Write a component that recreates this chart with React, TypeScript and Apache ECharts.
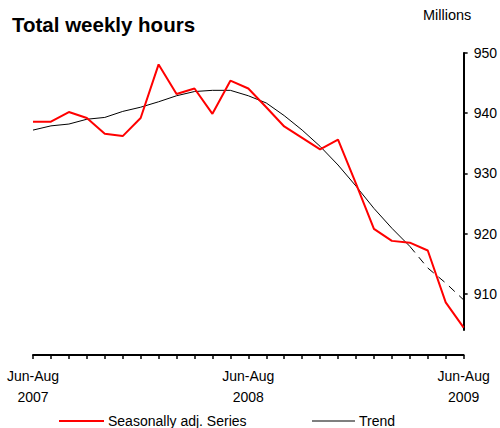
import React, { useEffect, useRef } from "react";
import * as echarts from "echarts";

const categories = [
  "Jun-Aug 2007", "Jul-Sep 2007", "Aug-Oct 2007", "Sep-Nov 2007", "Oct-Dec 2007", "Nov-Jan 2008",
  "Dec-Feb 2008", "Jan-Mar 2008", "Feb-Apr 2008", "Mar-May 2008", "Apr-Jun 2008", "May-Jul 2008",
  "Jun-Aug 2008", "Jul-Sep 2008", "Aug-Oct 2008", "Sep-Nov 2008", "Oct-Dec 2008", "Nov-Jan 2009",
  "Dec-Feb 2009", "Jan-Mar 2009", "Feb-Apr 2009", "Mar-May 2009", "Apr-Jun 2009", "May-Jul 2009",
  "Jun-Aug 2009",
];

const seasonallyAdjusted = [
  938.6, 938.6, 940.2, 939.2, 936.6, 936.2, 939.2, 948.1, 943.2, 944.1, 939.9, 945.4,
  944.1, 941.0, 937.8, 935.9, 934.0, 935.6, 928.3, 920.8, 918.8, 918.5, 917.2, 908.6, 904.4,
];

const trendSolid = [
  937.2, 937.9, 938.2, 939.0, 939.3, 940.3, 941.0, 941.9, 942.9, 943.6, 943.8, 943.8,
  942.9, 941.7, 939.6, 937.2, 934.5, 931.4, 927.9, 924.2, 920.9, 917.9, null, null, null,
];

const trendDashed = [
  null, null, null, null, null, null, null, null, null, null, null, null,
  null, null, null, null, null, null, null, null, null, 917.9, 914.3, 911.8, 909.0,
];

const yTicks = [910, 920, 930, 940, 950];
const labelledIndices = [0, 12, 24];

const FONT = "'Liberation Sans', Arial, sans-serif";

export default function App() {
  const ref = useRef<HTMLDivElement>(null);
  useEffect(() => {
    document.body.style.margin = "0";
    if (!ref.current) return;
    const chart = echarts.init(ref.current, null, { renderer: "svg" });
    chart.setOption({
      animation: false,
      backgroundColor: "#ffffff",
      textStyle: { fontFamily: FONT },
      title: {
        text: "Total weekly hours",
        left: 7,
        top: 9,
        textStyle: { fontFamily: FONT, fontSize: 20.5, fontWeight: "bold", color: "#000" },
      },
      graphic: [
        {
          type: "text",
          left: 423,
          top: 7,
          style: { text: "Millions", font: `14.5px ${FONT}`, fill: "#000" },
        },
      ],
      legend: [
        {
          data: ["Seasonally adj. Series"],
          left: 59,
          top: 414,
          icon: "rect",
          itemWidth: 45,
          itemHeight: 2,
          itemGap: 5,
          textStyle: { fontFamily: FONT, fontSize: 14, color: "#000", padding: [0, 0, 0, -1] },
          padding: 0,
        },
        {
          data: ["Trend"],
          left: 312,
          top: 414,
          icon: "rect",
          itemWidth: 43,
          itemHeight: 1,
          textStyle: { fontFamily: FONT, fontSize: 14, color: "#000", padding: [0, 0, 0, -1] },
          padding: 0,
        },
      ],
      grid: { left: 33, right: 34, top: 53, bottom: 98, containLabel: false },
      xAxis: {
        type: "category",
        data: categories,
        boundaryGap: false,
        offset: 25,
        axisLine: { lineStyle: { color: "#000", width: 2 } },
        axisTick: { show: true, interval: 0, length: 4, lineStyle: { color: "#000", width: 1.5 } },
        axisLabel: {
          interval: (i: number) => labelledIndices.includes(i),
          formatter: (v: string) => v.replace(" ", "\n"),
          fontFamily: FONT,
          fontSize: 14,
          color: "#000",
          lineHeight: 20.5,
          margin: 11,
        },
        splitLine: { show: false },
      },
      yAxis: {
        type: "value",
        position: "right",
        min: 904,
        max: 950,
        axisLine: { show: true, lineStyle: { color: "#000", width: 2 } },
        axisTick: { show: true, length: 4, customValues: yTicks, lineStyle: { color: "#000", width: 1.5 } },
        axisLabel: {
          customValues: yTicks,
          fontFamily: FONT,
          fontSize: 14,
          color: "#000",
          margin: 10,
        },
        splitLine: { show: false },
      },
      series: [
        {
          name: "Seasonally adj. Series",
          type: "line",
          data: seasonallyAdjusted,
          symbol: "none",
          lineStyle: { color: "#ff0000", width: 2 },
          itemStyle: { color: "#ff0000" },
          z: 3,
        },
        {
          name: "Trend",
          type: "line",
          data: trendSolid,
          symbol: "none",
          connectNulls: false,
          lineStyle: { color: "#000", width: 1 },
          itemStyle: { color: "#000" },
          z: 2,
        },
        {
          name: "Trend (projected)",
          type: "line",
          data: trendDashed,
          symbol: "none",
          connectNulls: false,
          lineStyle: { color: "#000", width: 1, type: [8, 6] },
          itemStyle: { color: "#000" },
          z: 2,
        },
      ],
    });
    return () => chart.dispose();
  }, []);
  return <div ref={ref} style={{ width: 500, height: 428 }} />;
}
